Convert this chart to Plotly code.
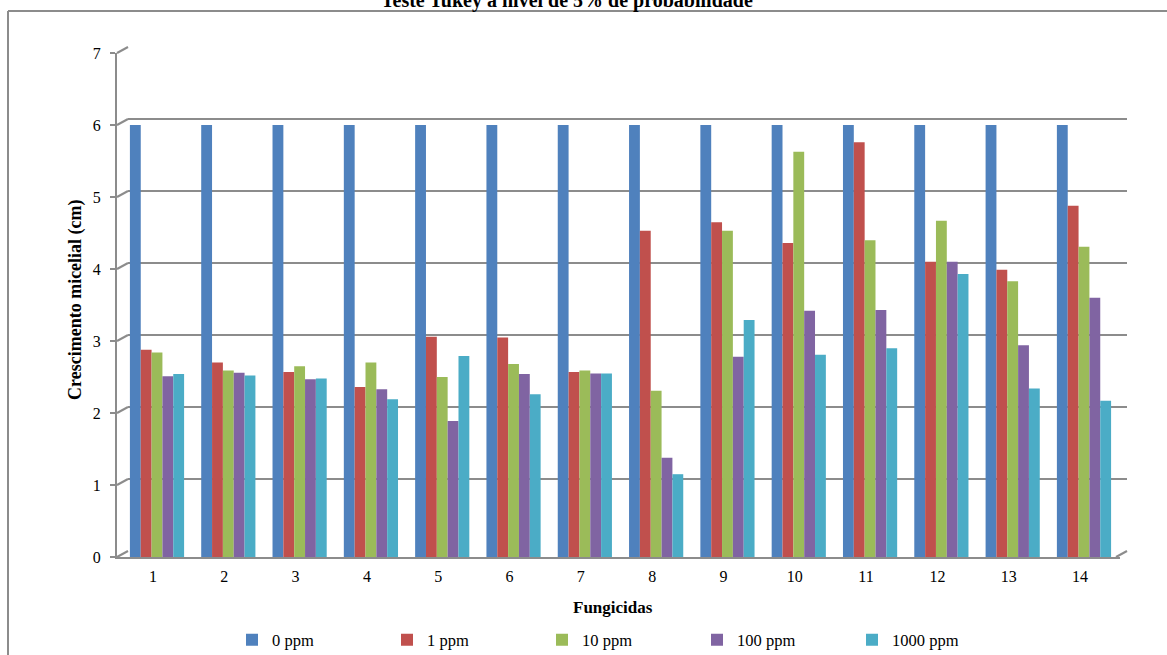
import plotly.graph_objects as go

W, H = 1167, 655

fungicidas = list(range(1, 15))
series_names = ["0 ppm", "1 ppm", "10 ppm", "100 ppm", "1000 ppm"]
ppm0 = [6.0, 6.0, 6.0, 6.0, 6.0, 6.0, 6.0, 6.0, 6.0, 6.0, 6.0, 6.0, 6.0, 6.0]
ppm1 = [2.88, 2.70, 2.57, 2.36, 3.06, 3.05, 2.57, 4.53, 4.65, 4.36, 5.76, 4.10, 3.99, 4.88]
ppm10 = [2.84, 2.59, 2.65, 2.70, 2.50, 2.68, 2.59, 2.31, 4.53, 5.63, 4.40, 4.67, 3.83, 4.31]
ppm100 = [2.51, 2.56, 2.47, 2.33, 1.89, 2.54, 2.55, 1.38, 2.78, 3.42, 3.43, 4.10, 2.94, 3.60]
ppm1000 = [2.54, 2.52, 2.48, 2.19, 2.79, 2.26, 2.55, 1.15, 3.29, 2.81, 2.90, 3.93, 2.34, 2.17]
y_ticks = [0, 1, 2, 3, 4, 5, 6, 7]
colors = ["#4F81BD", "#C0504D", "#9BBB59", "#8064A2", "#4BACC6"]

FONT = "Liberation Serif, Times New Roman, serif"
GRID = "#8c8c8c"

def px_x(p):
    return p / W

def px_y(p):
    return 1 - p / H

# axis geometry (pixels)
front_l, front_r, front_b, front_t = 117, 1120, 557, 53
wall_l, wall_r, wall_b, wall_t = 128, 1127, 551, 47

fig = go.Figure()

# back wall (gridlines) subplot
fig.add_trace(go.Scatter(x=[], y=[], xaxis="x", yaxis="y", showlegend=False, hoverinfo="skip"))

for name, vals, col in zip(series_names, [ppm0, ppm1, ppm10, ppm100, ppm1000], colors):
    fig.add_trace(go.Bar(
        x=fungicidas, y=vals, name=name, marker=dict(color=col, line=dict(width=0)),
        xaxis="x2", yaxis="y2",
    ))

shapes = []
# chart border (left and top)
shapes.append(dict(type="line", xref="paper", yref="paper", x0=px_x(8), x1=px_x(8), y0=px_y(11), y1=px_y(660),
                   line=dict(color=GRID, width=2)))
shapes.append(dict(type="line", xref="paper", yref="paper", x0=px_x(8), x1=px_x(1170), y0=px_y(11), y1=px_y(11),
                   line=dict(color=GRID, width=2)))
# slanted connectors from front axis ticks to back wall gridlines
for v in y_ticks:
    yf = front_b - v / 7 * (front_b - front_t)
    yw = wall_b - v / 7 * (wall_b - wall_t)
    shapes.append(dict(type="line", xref="paper", yref="paper", x0=px_x(front_l), x1=px_x(wall_l),
                       y0=px_y(yf), y1=px_y(yw), line=dict(color=GRID, width=2), layer="below"))
# floor right end
shapes.append(dict(type="line", xref="paper", yref="paper", x0=px_x(front_r - 4), x1=px_x(wall_r),
                   y0=px_y(front_b), y1=px_y(wall_b), line=dict(color=GRID, width=2)))

fig.update_layout(
    width=W, height=H,
    margin=dict(l=0, r=0, t=0, b=0, autoexpand=False),
    paper_bgcolor="white", plot_bgcolor="rgba(0,0,0,0)",
    barmode="group", bargap=0.24, bargroupgap=0,
    font=dict(family=FONT, size=16, color="black"),
    xaxis=dict(domain=[px_x(wall_l), px_x(wall_r)], range=[0, 1], showgrid=False, zeroline=False,
               showticklabels=False, showline=False, anchor="y"),
    yaxis=dict(domain=[px_y(wall_b), px_y(wall_t)], range=[0, 7], dtick=1, showgrid=True,
               gridcolor=GRID, gridwidth=2, zeroline=False, showticklabels=False, showline=False, anchor="x"),
    xaxis2=dict(domain=[px_x(front_l), px_x(front_r)], range=[0.439, 14.505], tickmode="linear", tick0=1, dtick=1,
                showgrid=False, zeroline=False, showline=True, linecolor=GRID, linewidth=2, ticks="",
                ticklabelstandoff=4, ticklabelshift=-4,
                tickfont=dict(family=FONT, size=16, color="black"), anchor="y2"),
    yaxis2=dict(domain=[px_y(front_b), px_y(front_t)], range=[0, 7], tickvals=y_ticks,
                showgrid=False, zeroline=False, showline=True, linecolor=GRID, linewidth=2,
                ticks="outside", ticklen=5, tickcolor=GRID, tickwidth=2, ticklabelstandoff=6,
                tickfont=dict(family=FONT, size=16, color="black"), anchor="x2"),
    legend=dict(orientation="h", x=px_x(232), xanchor="left", y=px_y(640), yanchor="middle",
                entrywidth=110, entrywidthmode="pixels", font=dict(family=FONT, size=16.5, color="black"),
                bgcolor="rgba(0,0,0,0)", itemclick=False, tracegroupgap=0),
    shapes=shapes,
    annotations=[
        dict(text="<b>Teste Tukey a nível de 5% de probabilidade</b>", xref="paper", yref="paper",
             x=px_x(567), y=px_y(1), xanchor="center", yanchor="middle", showarrow=False,
             font=dict(family=FONT, size=20, color="black")),
        dict(text="<b>Fungicidas</b>", xref="paper", yref="paper", x=px_x(613), y=px_y(607),
             xanchor="center", yanchor="middle", showarrow=False, font=dict(family=FONT, size=17, color="black")),
        dict(text="<b>Crescimento micelial (cm)</b>", xref="paper", yref="paper", x=px_x(75), y=px_y(300),
             xanchor="center", yanchor="middle", showarrow=False, textangle=-90,
             font=dict(family=FONT, size=18, color="black")),
    ],
)

fig.write_html("out.html")
